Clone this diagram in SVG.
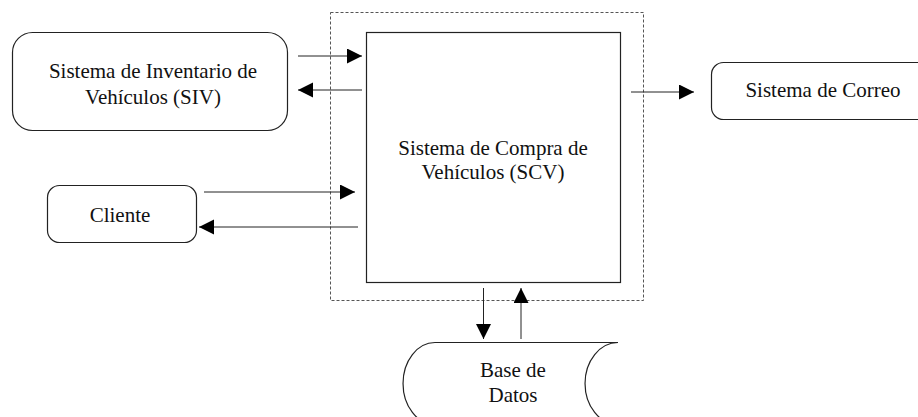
<svg xmlns="http://www.w3.org/2000/svg" width="918" height="417" viewBox="0 0 918 417">
  <style>
    .box { fill: #fff; stroke: #222; stroke-width: 1.2; }
    .boundary { fill: none; stroke: #555; stroke-width: 1; stroke-dasharray: 3 2; }
    .flow { fill: none; stroke: #222; stroke-width: 1; }
    .lbl { font-family: "Liberation Serif", "Times New Roman", serif; font-size: 21px; fill: #111; text-anchor: middle; }
  </style>
  <defs>
    <marker id="head" markerUnits="userSpaceOnUse" markerWidth="16" markerHeight="16" refX="15" refY="7.5" orient="auto">
      <path d="M0,0 L15,7.5 L0,15 Z" fill="#000"/>
    </marker>
  </defs>

  <rect width="918" height="417" fill="#fff"/>

  <!-- system boundary -->
  <rect class="boundary" x="330.5" y="12.5" width="313" height="288"/>

  <g id="scv">
    <rect class="box" x="366.5" y="32.5" width="254" height="250"/>
    <text class="lbl" x="493" y="155">Sistema de Compra de</text>
    <text class="lbl" x="493" y="179">Vehículos (SCV)</text>
  </g>

  <g id="siv">
    <rect class="box" x="12.5" y="32.5" width="275" height="98" rx="20"/>
    <text class="lbl" x="153" y="78">Sistema de Inventario de</text>
    <text class="lbl" x="153" y="104">Vehículos (SIV)</text>
  </g>

  <g id="cliente">
    <rect class="box" x="47.5" y="185.5" width="149" height="57" rx="12"/>
    <text class="lbl" x="120" y="222">Cliente</text>
  </g>

  <g id="correo">
    <rect class="box" x="711.5" y="62.5" width="240" height="57" rx="12"/>
    <text class="lbl" x="823" y="97">Sistema de Correo</text>
  </g>

  <g id="bd">
    <path class="box" d="M435,342.5 L618,342.5 A33,41 0 0 0 618,424.5 L435,424.5 A32,41 0 0 1 435,342.5 Z"/>
    <text class="lbl" x="513" y="377">Base de</text>
    <text class="lbl" x="513" y="402">Datos</text>
  </g>

  <g id="connectors">
    <line class="flow" x1="298" y1="56" x2="362" y2="56" marker-end="url(#head)"/>
    <line class="flow" x1="362" y1="90" x2="298" y2="90" marker-end="url(#head)"/>
    <line class="flow" x1="204" y1="192" x2="355" y2="192" marker-end="url(#head)"/>
    <line class="flow" x1="358" y1="227" x2="199" y2="227" marker-end="url(#head)"/>
    <line class="flow" x1="631" y1="92" x2="694" y2="92" marker-end="url(#head)"/>
    <line class="flow" x1="483.5" y1="288" x2="483.5" y2="339" marker-end="url(#head)"/>
    <line class="flow" x1="521" y1="339" x2="521" y2="288" marker-end="url(#head)"/>
  </g>
</svg>
